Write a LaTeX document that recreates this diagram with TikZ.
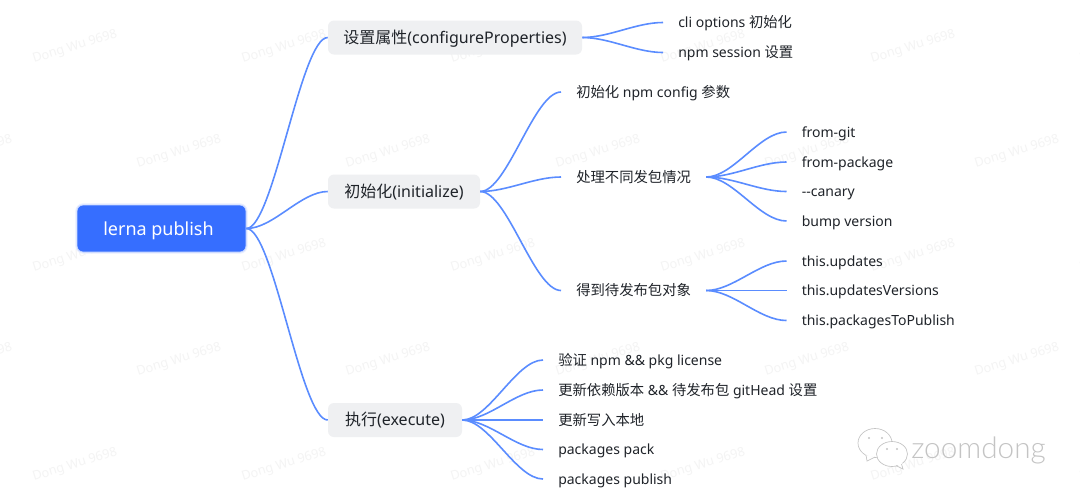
\documentclass[tikz,border=0pt]{standalone}
\usepackage{fontspec}
\setmainfont{Noto Sans}
\newfontfamily\cjk{Noto Sans CJK SC}
\newfontfamily\logofont{Lato Light}
\newcommand{\zh}[1]{{\cjk #1}}
\newcommand{\zl}[1]{{\cjk\fontsize{10.75pt}{13pt}\selectfont #1}}
\definecolor{linkblue}{HTML}{5A8CFF}
\definecolor{rootblue}{HTML}{366EFF}
\definecolor{rootglow}{HTML}{C9D8FF}
\definecolor{rootglowb}{HTML}{E8EEFF}
\definecolor{boxgray}{HTML}{EFF0F2}
\definecolor{inkdark}{HTML}{1F2329}
\definecolor{wmark}{HTML}{F4F4F4}
\definecolor{logogray}{HTML}{C4C4C4}
\tikzset{
  rootnode/.style={preaction={draw=rootglowb,line width=2.4pt,rounded corners=4.5pt},draw=rootglow,line width=0.6pt,fill=rootblue,rounded corners=4.5pt,text=white,font=\fontsize{13.5pt}{16pt}\selectfont,minimum width=126.75pt,minimum height=35.25pt,inner sep=0pt,text height=9.8pt,text depth=0pt},
  topicnode/.style={fill=boxgray,rounded corners=4.5pt,text=inkdark,font=\fontsize{12pt}{14pt}\selectfont,minimum height=25.5pt,inner sep=0pt,text height=8.6pt,text depth=0pt},
  leafnode/.style={anchor=west,text=inkdark,font=\fontsize{10.5pt}{13pt}\selectfont,inner xsep=11.25pt,inner ysep=0pt,text height=7.5pt,text depth=0pt},
  link/.style={draw=linkblue,line width=1.2pt},
  wm/.style={text=wmark,rotate=17,font=\fontsize{9.5pt}{12pt}\selectfont,inner sep=0pt},
  logoline/.style={draw=logogray,line width=0.5pt},
}
\newcommand{\linkto}[3]{\draw[link] (#1) .. controls +(#3,0) and +(-#3,0) .. (#2);}
\begin{document}
\begin{tikzpicture}[x=0.75pt,y=-0.75pt]
\useasboundingbox[fill=white] (0,0) rectangle (1080,501);
% watermarks
\foreach \x [count=\i] in {75,284,493,703,913,1122}{
  \foreach \y [count=\j] in {47,256,465}{
    \node[wm] (wa\i\j) at (\x,\y) {Dong Wu 9698};
  }
}
\foreach \x [count=\i] in {-30,179,388,598,807,1017}{
  \foreach \y [count=\j] in {152,360}{
    \node[wm] (wb\i\j) at (\x,\y) {Dong Wu 9698};
  }
}
% nodes
\node[rootnode] (root) at (161.5,228.5) {\kern-4.5pt lerna publish};
\node[topicnode,minimum width=190.5pt] (ta) at (455,37.5) {\zh{设置属性}(configureProperties)};
\node[topicnode,minimum width=114pt] (tb) at (404,191.5) {\zh{初始化}(initialize)};
\node[topicnode,minimum width=100.5pt] (tc) at (395,420) {\zh{执行}(execute)};
\node[leafnode] (a1) at (663,22.5) {cli options \zl{初始化}};
\node[leafnode] (a2) at (663,52.5) {npm session \zl{设置}};
\node[leafnode] (b1) at (561,92) {\zl{初始化} npm config \zl{参数}};
\node[leafnode] (b2) at (561,177) {\zl{处理不同发包情况}};
\node[leafnode] (b3) at (561,290.5) {\zl{得到待发布包对象}};
\node[leafnode] (d1) at (786.5,132) {from-git};
\node[leafnode] (d2) at (786.5,162) {from-package};
\node[leafnode] (d3) at (786.5,191.5) {-{}-canary};
\node[leafnode] (d4) at (786.5,221) {bump version};
\node[leafnode] (e1) at (786.5,261) {this.updates};
\node[leafnode] (e2) at (786.5,290.5) {this.updatesVersions};
\node[leafnode] (e3) at (786.5,320.5) {this.packagesToPublish};
\node[leafnode] (c1) at (543,360) {\zl{验证} npm \&\& pkg license};
\node[leafnode] (c2) at (543,390) {\zl{更新依赖版本} \&\& \zl{待发布包} gitHead \zl{设置}};
\node[leafnode] (c3) at (543,420) {\zl{更新写入本地}};
\node[leafnode] (c4) at (543,449.5) {packages pack};
\node[leafnode] (c5) at (543,479) {packages publish};
% connectors
\foreach \t in {ta,tb,tc}{\linkto{root.east}{\t.west}{27}}
\foreach \t in {a1,a2}{\linkto{ta.east}{\t.west}{27}}
\foreach \t in {b1,b2,b3}{\linkto{tb.east}{\t.west}{27}}
\foreach \t in {d1,d2,d3,d4}{\linkto{b2.east}{\t.west}{27}}
\foreach \t in {e1,e2,e3}{\linkto{b3.east}{\t.west}{27}}
\foreach \t in {c1,c2,c3,c4,c5}{\linkto{tc.east}{\t.west}{27}}
% logo
\node[text=logogray,anchor=base west,inner sep=0pt,font=\logofont\fontsize{22.3pt}{24pt}\selectfont] (logo) at (911,458) {zoomdong};
\draw[logoline,fill=white] (875,443) circle[x radius=17,y radius=14.5];
\fill[white] (866,455) -- (867,461) -- (875,457) -- cycle;
\draw[logoline] (866,455) -- (867,461) -- (875,457);
\fill[logogray] (869,438) circle[radius=1.2] (882,438) circle[radius=1.2];
\draw[logoline,fill=white] (892,454) circle[x radius=15.5,y radius=12.5];
\fill[white] (896,464) -- (903,469) -- (902,461) -- cycle;
\draw[logoline] (896,465.5) -- (903,469) -- (901.5,464);
\fill[logogray] (887,449) circle[radius=1.2] (897,449) circle[radius=1.2];
\end{tikzpicture}
\end{document}
